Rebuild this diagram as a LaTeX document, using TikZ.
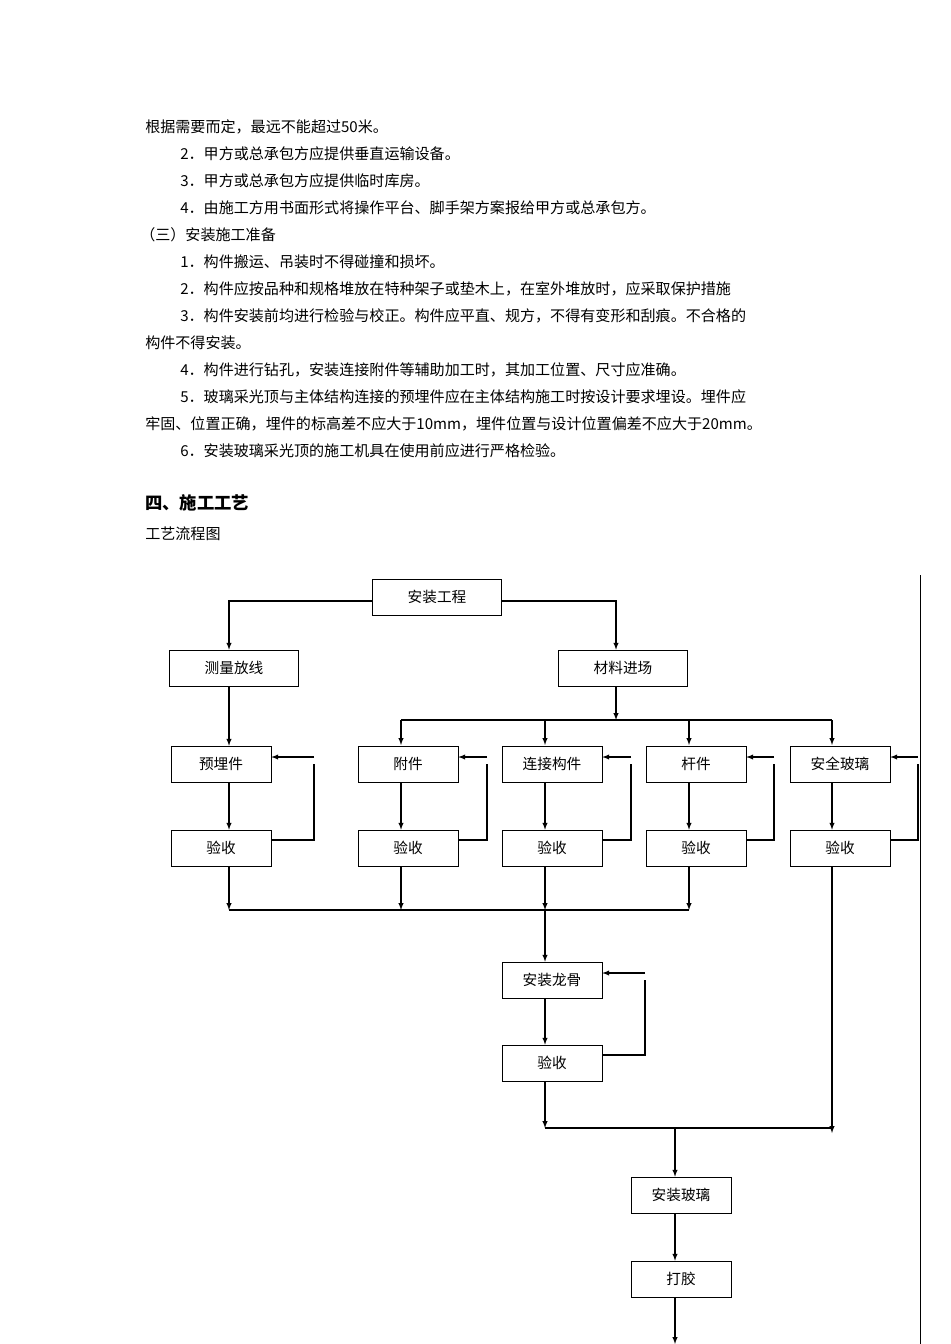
\documentclass[tikz,border=0pt]{standalone}
\usepackage{fontspec}
\setmainfont{Noto Sans CJK SC}
\usetikzlibrary{arrows,positioning}

\begin{document}
\begin{tikzpicture}[
    x=0.75pt, y=-0.75pt,
    box/.style={rectangle, draw, minimum width=75pt, minimum height=27pt, inner sep=0pt, font=\fontsize{11}{13}\selectfont},
    wbox/.style={box, minimum width=97pt},
    txt/.style={anchor=west, inner sep=0pt, font=\fontsize{11.3}{13}\selectfont},
    arr/.style={-latex, thick},
    ln/.style={thick}
]
    \useasboundingbox (0,0) rectangle (950,1344);

    % Text
    \node[txt] (p1) at (145,127) {根据需要而定，最远不能超过50米。};
    \node[txt] (p2) at (180,154) {2．甲方或总承包方应提供垂直运输设备。};
    \node[txt] (p3) at (180,181) {3．甲方或总承包方应提供临时库房。};
    \node[txt] (p4) at (180,208) {4．由施工方用书面形式将操作平台、脚手架方案报给甲方或总承包方。};
    \node[txt] (p5) at (140,235) {（三）安装施工准备};
    \node[txt] (p6) at (180,262) {1．构件搬运、吊装时不得碰撞和损坏。};
    \node[txt] (p7) at (180,289) {2．构件应按品种和规格堆放在特种架子或垫木上，在室外堆放时，应采取保护措施};
    \node[txt] (p8) at (180,316) {3．构件安装前均进行检验与校正。构件应平直、规方，不得有变形和刮痕。不合格的};
    \node[txt] (p9) at (145,343) {构件不得安装。};
    \node[txt] (p10) at (180,370) {4．构件进行钻孔，安装连接附件等辅助加工时，其加工位置、尺寸应准确。};
    \node[txt] (p11) at (180,397) {5．玻璃采光顶与主体结构连接的预埋件应在主体结构施工时按设计要求埋设。埋件应};
    \node[txt] (p12) at (145,424) {牢固、位置正确，埋件的标高差不应大于10mm，埋件位置与设计位置偏差不应大于20mm。};
    \node[txt] (p13) at (180,451) {6．安装玻璃采光顶的施工机具在使用前应进行严格检验。};
    \node[txt, font=\fontsize{13}{15}\selectfont\bfseries] (h4) at (145,503) {四、施工工艺};
    \node[txt] (cap) at (145,534) {工艺流程图};

    % Boxes
    \node[wbox] (start) at (437,597) {安装工程};
    \node[wbox] (measure) at (234,668) {测量放线};
    \node[wbox] (material) at (623,668) {材料进场};
    \node[box] (embed) at (221,764) {预埋件};
    \node[box] (attach) at (408,764) {附件};
    \node[box] (connect) at (552,764) {连接构件};
    \node[box] (rod) at (696,764) {杆件};
    \node[box] (glass) at (840,764) {安全玻璃};
    \node[box] (chk1) at (221,848) {验收};
    \node[box] (chk2) at (408,848) {验收};
    \node[box] (chk3) at (552,848) {验收};
    \node[box] (chk4) at (696,848) {验收};
    \node[box] (chk5) at (840,848) {验收};
    \node[box] (keel) at (552,980) {安装龙骨};
    \node[box] (chk6) at (552,1063) {验收};
    \node[box] (install) at (681,1195) {安装玻璃};
    \node[box] (glue) at (681,1279) {打胶};

    % Connectors
    \draw[ln] (start.west |- 0,601) -| (229,620) coordinate (a1);
    \draw[arr] (a1) -- (measure.north -| a1);
    \draw[ln] (start.east |- 0,601) -| (616,620) coordinate (a2);
    \draw[arr] (a2) -- (material.north -| a2);
    \draw[arr] (measure.south -| 229,0) -- (embed.north -| 229,0);
    \draw[arr] (material.south -| 616,0) -- (616,720) coordinate (bus1);
    \draw[ln] (401,720) -- (832,720);
    \foreach \x/\top/\chk in {229/embed/chk1, 401/attach/chk2, 545/connect/chk3, 689/rod/chk4, 832/glass/chk5}
        \draw[arr] (\top.south -| \x,0) -- (\chk.north -| \x,0);
    \foreach \x in {401,545,689,832}
        \draw[arr] (\x,720) -- (\x,745);
    \foreach \top/\chk/\x in {embed/chk1/314, attach/chk2/487, connect/chk3/631, rod/chk4/774, glass/chk5/918, keel/chk6/645}
        \draw[arr] (\chk.east |- 0,0) ++(0,0) (\chk.east) ++(0,-8) -| (\x,0 |- \top.east) ++(0,-7) -- ([yshift=5.25pt]\top.east);
    \foreach \x/\chk in {229/chk1, 401/chk2, 545/chk3, 689/chk4}
        \draw[arr] (\chk.south -| \x,0) -- (\x,910);
    \draw[ln] (229,910) -- (689,910);
    \draw[arr] (545,910) -- (keel.north -| 545,0);
    \draw[arr] (keel.south -| 545,0) -- (chk6.north -| 545,0);
    \draw[arr] (chk6.south -| 545,0) -- (545,1128) coordinate (bus2);
    \draw[arr] (chk5.south -| 832,0) -- (832,1133);
    \draw[ln] (bus2) -- (832,1128);
    \draw[arr] (675,1128) -- (install.north -| 675,0);
    \draw[arr] (install.south -| 675,0) -- (glue.north -| 675,0);
    \draw[arr] (glue.south -| 675,0) -- (675,1344);
    \draw (920,575) -- (920,1344);
\end{tikzpicture}
\end{document}
